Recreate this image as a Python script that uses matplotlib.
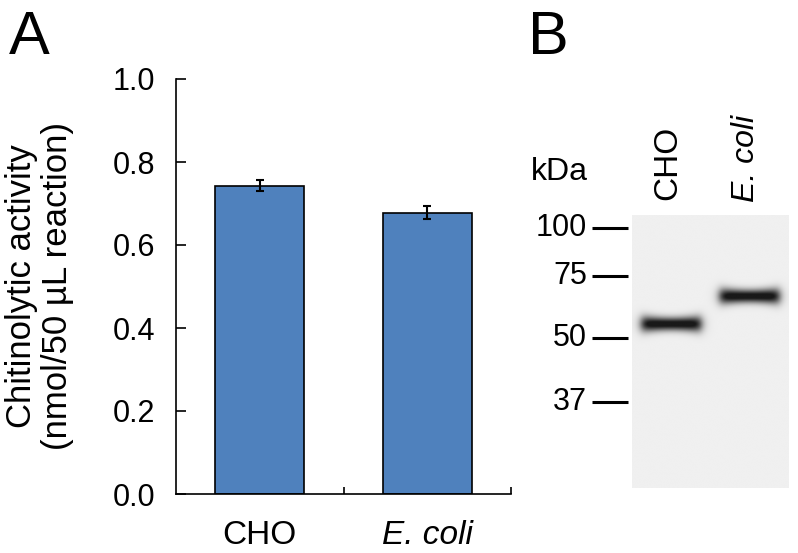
import numpy as np
import matplotlib
matplotlib.use('Agg')
import matplotlib.pyplot as plt
import matplotlib.transforms as mtransforms

plt.rcParams['font.family'] = ['Liberation Sans', 'DejaVu Sans']

# Panel A: chitinolytic activity
samples = ['CHO', 'E. coli']
activity = [0.743, 0.678]
activity_err = [0.014, 0.016]
y_ticks = [0.0, 0.2, 0.4, 0.6, 0.8, 1.0]

# Panel B: western blot (migration as fraction of gel height from top)
marker_kda = [100, 75, 50, 37]
marker_migration = [0.048, 0.223, 0.451, 0.685]
band_migration = [0.399, 0.297]   # CHO, E. coli

W, H = 798, 553
fig = plt.figure(figsize=(W / 100, H / 100), dpi=100)

# ---------------- A ----------------
ax = fig.add_axes([176 / W, 1 - 494 / H, 335 / W, 415 / H])
x = np.arange(len(samples))
ax.bar(x, activity, width=0.53, color='#4F81BD', edgecolor='black', linewidth=1.2, zorder=2)
ax.errorbar(x, activity, yerr=activity_err, fmt='none', ecolor='black',
            elinewidth=1.5, capsize=3, capthick=1.5, zorder=3)
ax.set_xlim(-0.5, len(samples) - 0.5)
ax.set_ylim(0, 1.0)
ax.set_yticks(y_ticks)
ax.set_yticklabels([f'{v:.1f}' for v in y_ticks])
ax.set_xticks(x + 0.5)
ax.set_xticklabels([])
ax.set_xticks(x, minor=True)
labs = ax.set_xticklabels(samples, minor=True)
labs[1].set_fontstyle('italic')
ax.tick_params(axis='y', direction='in', length=7, width=1.2, labelsize=22, pad=15)
ax.tick_params(axis='x', which='major', direction='in', length=5, width=1.2)
ax.tick_params(axis='x', which='minor', length=0, labelsize=24, pad=19)
for s in ['top', 'right']:
    ax.spines[s].set_visible(False)
for s in ['left', 'bottom']:
    ax.spines[s].set_linewidth(1.2)
ax.set_ylabel('Chitinolytic activity\n(nmol/50 µL reaction)', fontsize=25,
              va='center', ha='center', linespacing=1.1)
ax.yaxis.set_label_coords(-0.408, 0.5)

fig.text(9 / W, 1 - 54 / H, 'A', fontsize=44, va='baseline')

# ---------------- B ----------------
gx = fig.add_axes([632 / W, 1 - 488 / H, 157 / W, 273 / H])
gx.set_xlim(-0.5, 1.5)
gx.set_ylim(1, 0)
gx.axis('off')

xs = np.linspace(-0.5, 1.5, 400)
ys = np.linspace(0, 1, 700)
XX, YY = np.meshgrid(xs, ys)
img = np.full_like(XX, 0.94)
for lane, m in enumerate(band_migration):
    hw = 0.38
    sx = 0.065
    prof_x = 0.5 * (np.tanh((XX - (lane - hw)) / sx) - np.tanh((XX - (lane + hw)) / sx))
    sy = 0.017 * (1 + 0.3 * ((XX - lane) / hw) ** 2)
    prof_y = np.exp(-0.5 * ((YY - m) / sy) ** 2)
    img -= np.clip(1.1 * prof_x * prof_y, 0, 1) * 0.84
img = np.clip(img, 0, 1)
gx.imshow(img, cmap='gray', vmin=0, vmax=1, extent=(-0.5, 1.5, 1, 0),
          aspect='auto', interpolation='bilinear')

# marker lines left of the gel
px = 157 / 2.0  # pixels per lane unit
for kda, m in zip(marker_kda, marker_migration):
    gx.plot([-0.5 - 40 / px, -0.5 - 4 / px], [m, m], color='black', lw=2.2,
            clip_on=False, solid_capstyle='butt')
    gx.text(-0.5 - 45 / px, m, str(kda), fontsize=22, ha='right', va='center')

trans = mtransforms.blended_transform_factory(gx.transData, gx.transAxes)
gx.text(0 - 3 / px, 1 + 15 / 273, 'CHO', rotation=90, fontsize=24, ha='center', va='bottom',
        transform=trans)
gx.text(1 - 4 / px, 1 + 13 / 273, 'E. coli', rotation=90, fontsize=23, ha='center',
        va='bottom', style='italic', transform=trans)

fig.text(531 / W, 1 - 180 / H, 'kDa', fontsize=23, va='baseline')
fig.text(528 / W, 1 - 54 / H, 'B', fontsize=44, va='baseline')

fig.savefig('out.png', dpi=100)
